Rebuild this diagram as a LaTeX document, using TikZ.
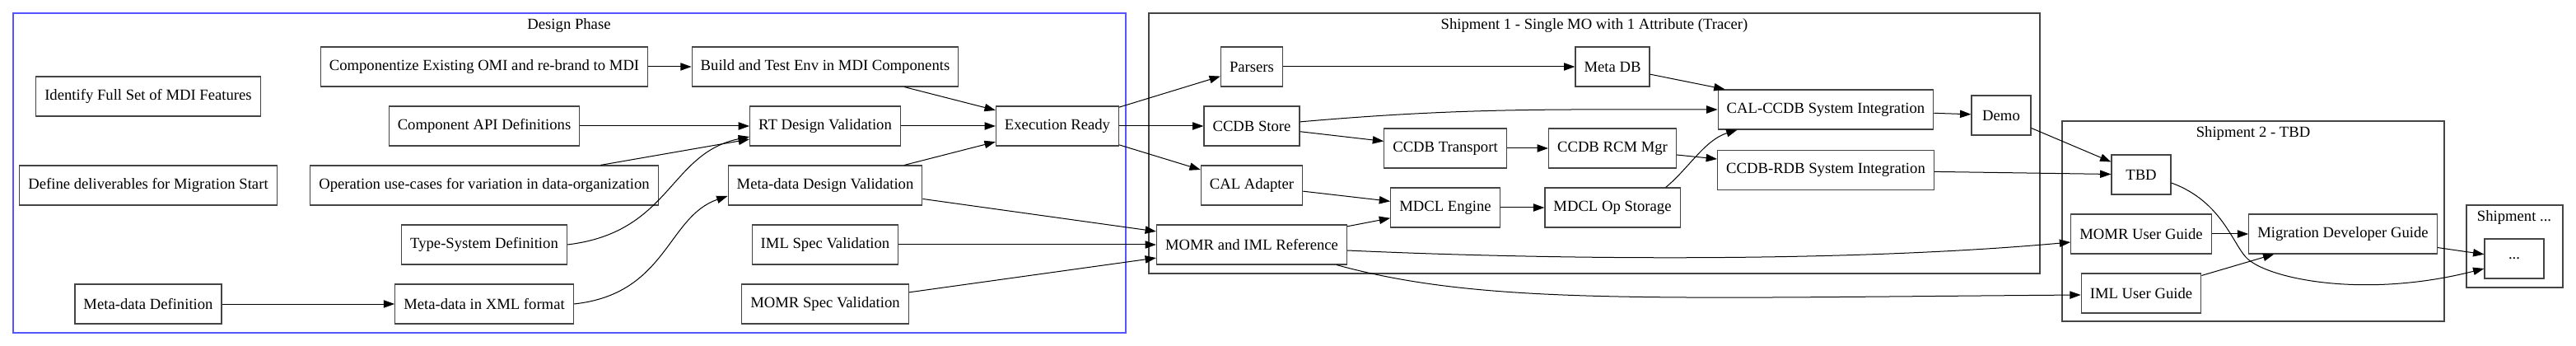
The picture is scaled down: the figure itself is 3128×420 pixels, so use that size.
\documentclass[tikz,border=0pt]{standalone}
\usepackage{fontspec}
\setmainfont{Liberation Serif}
\usepackage{xcolor}
\usetikzlibrary{arrows.meta,calc}
\definecolor{phaseblue}{RGB}{85,85,255}
\definecolor{framegray}{RGB}{68,68,68}
\tikzstyle{taskbox} = [draw=framegray, line width=0.9pt, rectangle,
    minimum height=36pt, minimum width=54pt, inner xsep=7.92pt, inner ysep=0pt,
    font=\fontsize{14}{16}\selectfont]
\tikzstyle{clustertitle} = [inner sep=0pt, font=\fontsize{14}{16}\selectfont]
\tikzstyle{cluster} = [draw=framegray, line width=0.9pt]
\tikzstyle{flow} = [-{Triangle[length=10pt,width=7pt]}, line width=0.75pt]

\begin{document}
\begin{tikzpicture}[x=0.75pt,y=-0.75pt]
    \useasboundingbox (0,0) rectangle (3128,420);
    \draw[draw=phaseblue, line width=1pt] (16,16) rectangle (1367,404);
    \draw[cluster] (1395,16) rectangle (2477,332);
    \draw[cluster] (2504,147) rectangle (2968,390);
    \draw[cluster] (2995,249) rectangle (3112,349);
    \node[clustertitle] (designtitle) at (691,31) {Design Phase};
    \node[clustertitle] (shiponetitle) at (1936,31) {Shipment 1 - Single MO with 1 Attribute (Tracer)};
    \node[clustertitle] (shiptwotitle) at (2736,162) {Shipment 2 - TBD};
    \node[clustertitle] (shipmoretitle) at (3053,264) {Shipment ...};

    \node[taskbox] (identify) at (180,117) {Identify Full Set of MDI Features};
    \node[taskbox] (deliverables) at (180,225) {Define deliverables for Migration Start};
    \node[taskbox] (mddef) at (180,369) {Meta-data Definition};
    \node[taskbox] (componentize) at (588,81) {Componentize Existing OMI and re-brand to MDI};
    \node[taskbox] (apidef) at (588,153) {Component API Definitions};
    \node[taskbox] (opcases) at (588,225) {Operation use-cases for variation in data-organization};
    \node[taskbox] (typesys) at (588,297) {Type-System Definition};
    \node[taskbox] (mdxml) at (588,369) {Meta-data in XML format};
    \node[taskbox] (buildenv) at (1002,81) {Build and Test Env in MDI Components};
    \node[taskbox] (rtval) at (1002,153) {RT Design Validation};
    \node[taskbox] (mdval) at (1002,225) {Meta-data Design Validation};
    \node[taskbox] (imlspec) at (1002,297) {IML Spec Validation};
    \node[taskbox] (momrspec) at (1002,369) {MOMR Spec Validation};
    \node[taskbox] (execready) at (1284,153) {Execution Ready};

    \node[taskbox] (parsers) at (1520,81) {Parsers};
    \node[taskbox] (ccdbstore) at (1520,153) {CCDB Store};
    \node[taskbox] (caladapter) at (1520,225) {CAL Adapter};
    \node[taskbox] (momriml) at (1520,297) {MOMR and IML Reference};
    \node[taskbox] (metadb) at (1958,81) {Meta DB};
    \node[taskbox] (ccdbtransport) at (1755,180) {CCDB Transport};
    \node[taskbox] (rcmmgr) at (1958,180) {CCDB RCM Mgr};
    \node[taskbox] (mdclengine) at (1755,252) {MDCL Engine};
    \node[taskbox] (mdclstorage) at (1958,252) {MDCL Op Storage};
    \node[taskbox] (calccdb) at (2217,133) {CAL-CCDB System Integration};
    \node[taskbox] (ccdbrdb) at (2217,206.5) {CCDB-RDB System Integration};
    \node[taskbox] (demo) at (2430,140) {Demo};

    \node[taskbox] (tbd) at (2600,212) {TBD};
    \node[taskbox] (momrguide) at (2600,284) {MOMR User Guide};
    \node[taskbox] (imlguide) at (2600,356) {IML User Guide};
    \node[taskbox] (devguide) at (2845,284) {Migration Developer Guide};
    \node[taskbox] (more) at (3053,314) {...};

    \draw[flow] (mddef) -- (mdxml);
    \draw[flow] (componentize) -- (buildenv);
    \draw[flow] (apidef) -- (rtval);
    \draw[flow] (opcases) -- (rtval);
    \draw[flow] (typesys.east) .. controls (815,282) and (812,186) .. ($(rtval.west)+(0,13)$);
    \draw[flow] (mdxml.east) .. controls (810,357) and (810,263) .. ($(mdval.west)+(0,13)$);
    \draw[flow] (buildenv) -- (execready);
    \draw[flow] (rtval) -- (execready);
    \draw[flow] (mdval) -- (execready);
    \draw[flow] (mdval) -- (momriml);
    \draw[flow] (imlspec) -- (momriml);
    \draw[flow] (momrspec) -- (momriml);
    \draw[flow] (execready) -- (parsers);
    \draw[flow] (execready) -- (ccdbstore);
    \draw[flow] (execready) -- (caladapter);
    \draw[flow] (parsers) -- (metadb);
    \draw[flow] (metadb) -- (calccdb);
    \draw[flow] (ccdbstore) to[out=5,in=180] (calccdb);
    \draw[flow] (ccdbstore) -- (ccdbtransport);
    \draw[flow] (ccdbtransport) -- (rcmmgr);
    \draw[flow] (rcmmgr) -- (ccdbrdb);
    \draw[flow] (caladapter) -- (mdclengine);
    \draw[flow] (momriml) -- (mdclengine);
    \draw[flow] (mdclengine) -- (mdclstorage);
    \draw[flow] ($(mdclstorage.north east)+(-18,0)$) .. controls (2050,205) and (2070,170) .. ($(calccdb.south west)+(24,0)$);
    \draw[flow] (calccdb) -- (demo);
    \draw[flow] (demo) -- (tbd);
    \draw[flow] (ccdbrdb) -- (tbd);
    \draw[flow] ($(momriml.east)+(0,7)$) .. controls (1900,316) and (2250,318) .. ($(momrguide.west)+(0,10)$);
    \draw[flow] ($(momriml.south east)+(-13,0)$) .. controls (1800,370) and (2000,362) .. ($(imlguide.west)+(0,2)$);
    \draw[flow] (momrguide) -- (devguide);
    \draw[flow] (imlguide) -- (devguide);
    \draw[flow] ($(tbd.east)+(0,10)$) .. controls (2700,245) and (2712,300) .. (2730,315)
        .. controls (2760,340) and (2875,362) .. ($(more.west)+(0,12)$);
    \draw[flow] (devguide) -- (more);
\end{tikzpicture}
\end{document}
